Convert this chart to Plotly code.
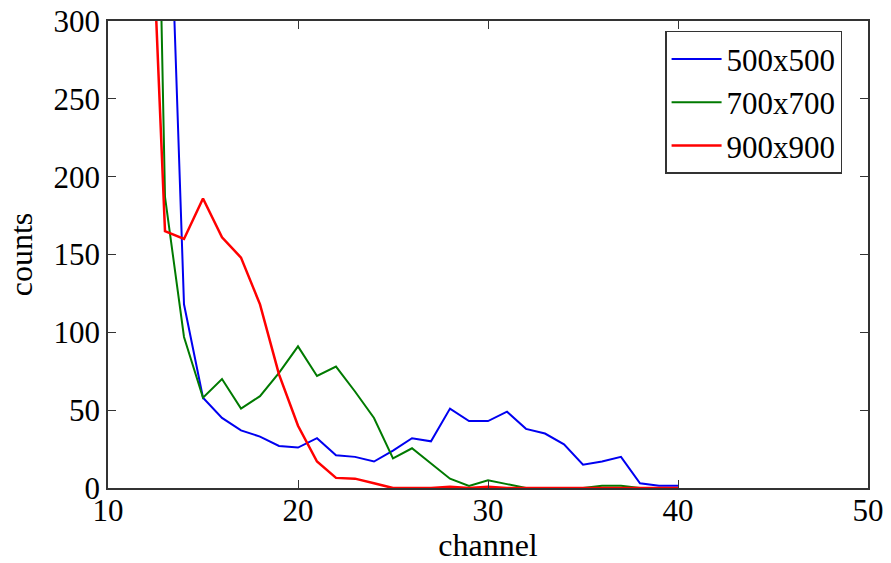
import plotly.graph_objects as go

# channel numbers
ch_blue = list(range(13, 41))
ch_green = list(range(12, 41))
ch_red = list(range(12, 41))

# counts per series
counts_500 = [480, 118, 58, 45, 37, 33, 27, 26, 32, 21, 20, 17, 24, 32, 30, 51,
              43, 43, 49, 38, 35, 28, 15, 17, 20, 3, 1.5, 1.5]
counts_700 = [800, 187, 97, 58, 70, 51, 59, 74, 91, 72, 78, 62, 45, 19, 25.5, 16,
              6, 1.3, 5, 2.5, 0, 0, 0, 0, 1.5, 1.5, 0, 0, 0]
counts_900 = [460, 165, 160, 186, 161, 148, 118, 73, 40, 17, 6.5, 6, 3, 0, 0, 0,
              0.8, 0, 0.8, 0, 0, 0, 0, 0, 0, 0, 0, 0, 0]

names = ["500x500", "700x700", "900x900"]
colors = ["#0000F0", "#007A00", "#FF0000"]
widths = [2, 2, 2.5]

x_ticks = [10, 20, 30, 40, 50]
y_ticks = [0, 50, 100, 150, 200, 250, 300]

FONT = "Liberation Serif, Times New Roman, serif"

fig = go.Figure()
for xs, ys, n, c, w in zip([ch_blue, ch_green, ch_red],
                           [counts_500, counts_700, counts_900],
                           names, colors, widths):
    fig.add_trace(go.Scatter(x=xs, y=ys, mode="lines", name=n,
                             line=dict(color=c, width=w)))

axis_common = dict(showline=True, linecolor="#333333", linewidth=1.5,
                   mirror="ticks", ticks="inside", ticklen=8, tickwidth=1.2,
                   tickcolor="#333333", showgrid=False, zeroline=False,
                   automargin=False,
                   tickfont=dict(family=FONT, size=31, color="black"))

fig.update_layout(
    width=891, height=563,
    margin=dict(l=108, r=23, t=21, b=75),
    paper_bgcolor="white", plot_bgcolor="white",
    font=dict(family=FONT, color="black"),
    xaxis=dict(range=[10, 50], tickvals=x_ticks, ticklabelstandoff=-6,
               title=dict(text="channel", font=dict(family=FONT, size=32), standoff=2),
               **axis_common),
    yaxis=dict(range=[0, 300], tickvals=y_ticks,
               title=dict(text="counts", font=dict(family=FONT, size=32), standoff=11),
               **axis_common),
    legend=dict(x=0.733, y=0.979, xanchor="left", yanchor="top",
                bgcolor="white", bordercolor="#333333", borderwidth=1.5,
                font=dict(family=FONT, size=31, color="black"),
                itemwidth=50, tracegroupgap=0),
    showlegend=True,
)

fig.write_html("out.html")
